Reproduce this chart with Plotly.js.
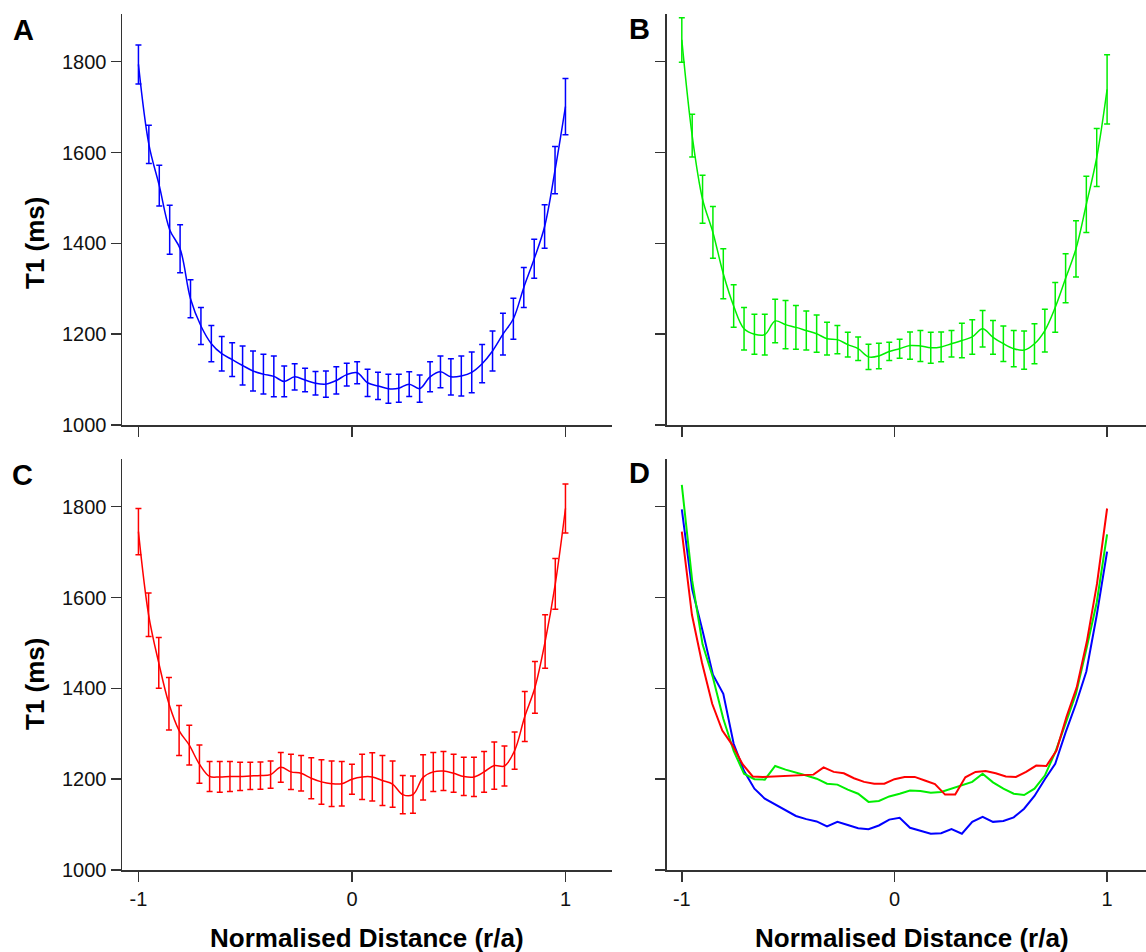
<!DOCTYPE html>
<html>
<head>
<meta charset="utf-8">
<script src="https://cdn.plot.ly/plotly-3.0.1.min.js"></script>
<style>
  html, body { margin: 0; padding: 0; background: #ffffff; overflow: hidden; }
  #chart { width: 1158px; height: 952px; }
</style>
</head>
<body>
<div id="chart"></div>
<script>
// ---- Data ----
// Normalised distance positions, panels A and B (42 samples)
const xEven = [-1, -0.9512, -0.9024, -0.8537, -0.8049, -0.7561, -0.7073, -0.6585, -0.6098, -0.5610,
  -0.5122, -0.4634, -0.4146, -0.3659, -0.3171, -0.2683, -0.2195, -0.1707, -0.1220, -0.0732, -0.0244,
  0.0244, 0.0732, 0.1220, 0.1707, 0.2195, 0.2683, 0.3171, 0.3659, 0.4146, 0.4634, 0.5122, 0.5610,
  0.6098, 0.6585, 0.7073, 0.7561, 0.8049, 0.8537, 0.9024, 0.9512, 1];
// Normalised distance positions, panel C (43 samples)
const xOdd = [-1, -0.9524, -0.9048, -0.8571, -0.8095, -0.7619, -0.7143, -0.6667, -0.6190, -0.5714,
  -0.5238, -0.4762, -0.4286, -0.3810, -0.3333, -0.2857, -0.2381, -0.1905, -0.1429, -0.0952, -0.0476,
  0, 0.0476, 0.0952, 0.1429, 0.1905, 0.2381, 0.2857, 0.3333, 0.3810, 0.4286, 0.4762, 0.5238, 0.5714,
  0.6190, 0.6667, 0.7143, 0.7619, 0.8095, 0.8571, 0.9048, 0.9524, 1];

// Panel A (blue) T1 mean and error (ms)
const meanA = [1794, 1618, 1527, 1430, 1388, 1278, 1218, 1179, 1157, 1144, 1131, 1119, 1112, 1107, 1096,
  1106, 1099, 1092, 1090, 1098, 1111, 1115, 1093, 1086, 1080, 1081, 1090, 1080, 1106, 1117, 1106, 1108,
  1116, 1135, 1163, 1200, 1234, 1303, 1366, 1437, 1561, 1701];
const errA = [43, 42, 45, 54, 53, 42, 41, 40, 38, 37, 43, 44, 44, 45, 34, 29, 26, 26, 29, 30, 25, 24,
  30, 30, 32, 31, 27, 30, 33, 35, 40, 44, 45, 42, 44, 46, 45, 44, 43, 48, 52, 62];

// Panel B (green)
const meanB = [1848, 1637, 1497, 1424, 1333, 1262, 1212, 1200, 1199, 1229, 1221, 1215, 1208, 1201, 1190,
  1188, 1177, 1168, 1150, 1152, 1162, 1168, 1175, 1174, 1170, 1172, 1179, 1186, 1194, 1212, 1193, 1179,
  1168, 1165, 1179, 1208, 1259, 1323, 1388, 1486, 1589, 1739];
const errB = [49, 47, 53, 57, 55, 47, 47, 44, 45, 48, 53, 48, 43, 41, 36, 31, 27, 26, 28, 28, 20, 21,
  30, 34, 34, 33, 29, 38, 38, 40, 37, 39, 40, 42, 44, 47, 55, 54, 62, 62, 64, 76];

// Panel C (red)
const meanC = [1745, 1562, 1456, 1366, 1307, 1275, 1233, 1206, 1205, 1206, 1206, 1207, 1208, 1210, 1226,
  1216, 1213, 1202, 1194, 1190, 1190, 1200, 1205, 1205, 1197, 1189, 1166, 1166, 1204, 1216, 1218, 1213,
  1206, 1205, 1216, 1230, 1229, 1263, 1338, 1402, 1503, 1630, 1796];
const errC = [51, 48, 56, 58, 55, 44, 42, 33, 34, 33, 31, 30, 30, 30, 33, 39, 39, 45, 49, 50, 49, 33,
  50, 53, 55, 51, 42, 41, 50, 43, 43, 42, 42, 43, 45, 52, 44, 41, 55, 57, 59, 56, 54];

// Tick values and labels
const yTicks = [1000, 1200, 1400, 1600, 1800];
const xTicks = [-1, 0, 1];
const xTickText = ['-1', '0', '1'];

const panelLetters = ['A', 'B', 'C', 'D'];
const yTitle = 'T1 (ms)';
const xTitle = 'Normalised Distance (r/a)';

// ---- Layout geometry (pixels in the 1158 x 952 canvas) ----
const W = 1158, H = 952;
const px = v => v / W;
const py = v => 1 - v / H;

const BLUE = '#0000ff', GREEN = '#00ee00', RED = '#ff0000';
const FONT = 'Arial, "Liberation Sans", Helvetica, sans-serif';

function errTrace(x, y, e, color, xa, ya) {
  return {
    x: x, y: y, xaxis: xa, yaxis: ya, type: 'scatter', mode: 'lines',
    line: { color: color, width: 1.5, shape: 'spline', smoothing: 1 },
    error_y: { type: 'data', array: e, visible: true, color: color, thickness: 1.5, width: 3 },
    showlegend: false, hoverinfo: 'x+y'
  };
}
function lineTrace(x, y, color) {
  return {
    x: x, y: y, xaxis: 'x4', yaxis: 'y4', type: 'scatter', mode: 'lines',
    line: { color: color, width: 2 }, showlegend: false, hoverinfo: 'x+y'
  };
}

const data = [
  errTrace(xEven, meanA, errA, BLUE, 'x', 'y'),
  errTrace(xEven, meanB, errB, GREEN, 'x2', 'y2'),
  errTrace(xOdd, meanC, errC, RED, 'x3', 'y3'),
  lineTrace(xEven, meanA, BLUE),
  lineTrace(xEven, meanB, GREEN),
  lineTrace(xOdd, meanC, RED)
];

const axisBase = {
  showline: true, linecolor: '#333333', linewidth: 1.5,
  ticks: 'outside', ticklen: 10, tickwidth: 1.5, tickcolor: '#333333',
  showgrid: false, zeroline: false,
  tickfont: { family: FONT, size: 20, color: '#111111' }
};
function xAx(domain, range, anchor, labels) {
  return Object.assign({}, axisBase, {
    domain: domain, range: range, anchor: anchor,
    tickmode: 'array', tickvals: xTicks, ticktext: xTickText, showticklabels: labels
  });
}
function yAx(domain, anchor, labels) {
  return Object.assign({}, axisBase, {
    domain: domain, range: [1000, 1905], anchor: anchor,
    tickmode: 'array', tickvals: yTicks, ticktext: yTicks.map(String), showticklabels: labels
  });
}

const leftDom = [px(122), px(612)];
const rightDom = [px(666.5), 1];
const topDom = [py(425), py(14)];
const botDom = [py(870), py(459)];
const leftRange = [-1.077, 1.218];
const rightRange = [-1.072, 1.2394];

const titleFont = { family: FONT, size: 26, color: '#000000' };
const letterFont = { family: FONT, size: 29, color: '#000000' };

function ann(text, x, y, font, angle) {
  return {
    text: '<b>' + text + '</b>', xref: 'paper', yref: 'paper',
    x: px(x), y: py(y), xanchor: 'center', yanchor: 'middle',
    showarrow: false, font: font, textangle: angle || 0
  };
}

const layout = {
  width: W, height: H,
  margin: { l: 0, r: 0, t: 0, b: 0, pad: 0 },
  paper_bgcolor: '#ffffff', plot_bgcolor: '#ffffff',
  showlegend: false,
  xaxis: xAx(leftDom, leftRange, 'y', false),
  yaxis: yAx(topDom, 'x', true),
  xaxis2: xAx(rightDom, rightRange, 'y2', false),
  yaxis2: yAx(topDom, 'x2', false),
  xaxis3: xAx(leftDom, leftRange, 'y3', true),
  yaxis3: yAx(botDom, 'x3', true),
  xaxis4: xAx(rightDom, rightRange, 'y4', true),
  yaxis4: yAx(botDom, 'x4', false),
  annotations: [
    ann(panelLetters[0], 23, 30, letterFont),
    ann(panelLetters[1], 639, 29, letterFont),
    ann(panelLetters[2], 22, 475, letterFont),
    ann(panelLetters[3], 639, 473, letterFont),
    ann(yTitle, 35, 243, titleFont, -90),
    ann(yTitle, 35, 684, titleFont, -90),
    ann(xTitle, 367, 938, titleFont),
    ann(xTitle, 912, 938, titleFont)
  ]
};

Plotly.newPlot('chart', data, layout, { staticPlot: true, displayModeBar: false });
</script>
</body>
</html>
